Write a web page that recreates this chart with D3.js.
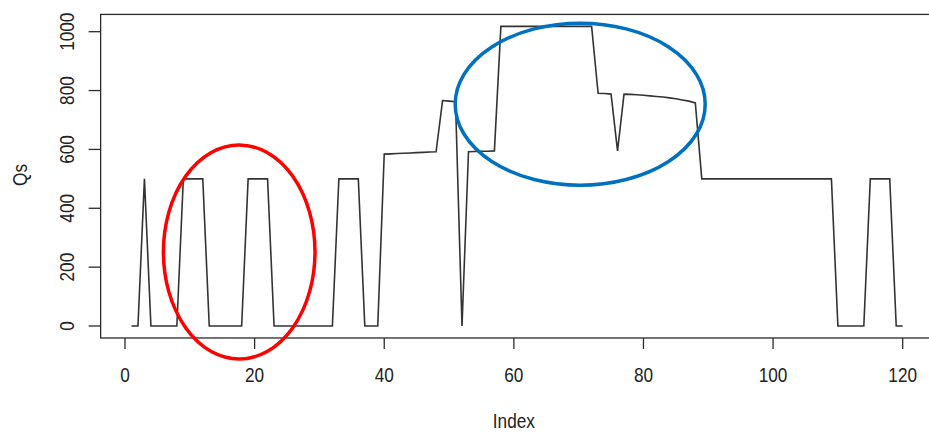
<!DOCTYPE html>
<html>
<head>
<meta charset="utf-8">
<script src="https://cdn.jsdelivr.net/npm/d3@7"></script>
<style>
  html, body { margin: 0; padding: 0; background: #fff; }
  svg { display: block; }
  text { font-family: "Liberation Sans", Arial, sans-serif; fill: #222; }
</style>
</head>
<body>
<svg id="chart" width="929" height="432"></svg>
<script>
// Qs series, one value per index 1..120
const qs = [
  0, 0, 500, 0, 0, 0, 0, 0, 500, 500,
  500, 500, 0, 0, 0, 0, 0, 0, 500, 500,
  500, 500, 0, 0, 0, 0, 0, 0, 0, 0,
  0, 0, 500, 500, 500, 500, 0, 0, 0, 584,
  585, 586, 587, 588, 589, 590, 591, 592, 766, 764,
  762, 0, 592, 593, 594, 594, 595, 1018, 1018, 1018,
  1018, 1018, 1018, 1018, 1018, 1018, 1018, 1018, 1018, 1018,
  1018, 1018, 791, 790, 788, 595, 788, 787, 786, 784,
  782, 780, 778, 775, 772, 768, 764, 758, 500, 500,
  500, 500, 500, 500, 500, 500, 500, 500, 500, 500,
  500, 500, 500, 500, 500, 500, 500, 500, 500, 0,
  0, 0, 0, 0, 500, 500, 500, 500, 0, 0
];
const index = qs.map((_, i) => i + 1);

const xTicks = [0, 20, 40, 60, 80, 100, 120];
const yTicks = [0, 200, 400, 600, 800, 1000];
const xTitle = "Index";
const yTitle = "Qs";

const svg = d3.select("#chart");

const x = d3.scaleLinear().domain([0, 120]).range([125, 902.7]);
const y = d3.scaleLinear().domain([0, 1000]).range([326, 31.7]);

// plot region padded by 4% of the data range on each side
const [xMin, xMax] = d3.extent(index);
const [yMin, yMax] = d3.extent(qs);
const xPad = (xMax - xMin) * 0.04, yPad = (yMax - yMin) * 0.04;
const boxLeft = x(xMin - xPad), boxRight = x(xMax + xPad);
const boxTop = y(yMax + yPad), boxBottom = y(yMin - yPad);

const ink = "#2b2b2b";
const narrow = 0.82;

// frame
svg.append("rect")
  .attr("x", boxLeft).attr("y", boxTop)
  .attr("width", boxRight - boxLeft).attr("height", boxBottom - boxTop)
  .attr("fill", "none").attr("stroke", ink).attr("stroke-width", 1.3);

// x axis ticks and labels
const xAxis = svg.append("g");
xAxis.selectAll("line").data(xTicks).join("line")
  .attr("x1", d => x(d)).attr("x2", d => x(d))
  .attr("y1", boxBottom).attr("y2", boxBottom + 11)
  .attr("stroke", ink).attr("stroke-width", 1.3);
xAxis.selectAll("text").data(xTicks).join("text")
  .attr("transform", d => `translate(${x(d)},${381.5}) scale(${narrow},1)`)
  .attr("text-anchor", "middle")
  .attr("font-size", 21)
  .text(d => d);

// y axis ticks and labels
const yAxis = svg.append("g");
yAxis.selectAll("line").data(yTicks).join("line")
  .attr("x1", boxLeft - 12).attr("x2", boxLeft)
  .attr("y1", d => y(d)).attr("y2", d => y(d))
  .attr("stroke", ink).attr("stroke-width", 1.3);
yAxis.selectAll("text").data(yTicks).join("text")
  .attr("transform", d => `translate(${74},${y(d)}) rotate(-90) scale(${narrow},1)`)
  .attr("text-anchor", "middle")
  .attr("font-size", 21)
  .text(d => d);

// axis titles
svg.append("text")
  .attr("transform", `translate(${(x(0) + x(120)) / 2},${428}) scale(${narrow},1)`)
  .attr("text-anchor", "middle")
  .attr("font-size", 21)
  .text(xTitle);
svg.append("text")
  .attr("transform", `translate(${26.5},${175}) rotate(-90) scale(${narrow},1)`)
  .attr("text-anchor", "middle")
  .attr("font-size", 21)
  .text(yTitle);

// data line
const line = d3.line()
  .x((d, i) => x(index[i]))
  .y(d => y(d));
svg.append("path")
  .datum(qs)
  .attr("d", line)
  .attr("fill", "none")
  .attr("stroke", "#333")
  .attr("stroke-width", 1.6)
  .attr("stroke-linejoin", "miter");

// highlight ellipses
svg.append("ellipse")
  .attr("cx", 239.2).attr("cy", 252).attr("rx", 75.8).attr("ry", 107)
  .attr("fill", "none").attr("stroke", "#ff0000").attr("stroke-width", 3.5);
svg.append("ellipse")
  .attr("cx", 580.2).attr("cy", 104.2).attr("rx", 125).attr("ry", 81)
  .attr("fill", "none").attr("stroke", "#0070c0").attr("stroke-width", 3.5);
</script>
</body>
</html>
